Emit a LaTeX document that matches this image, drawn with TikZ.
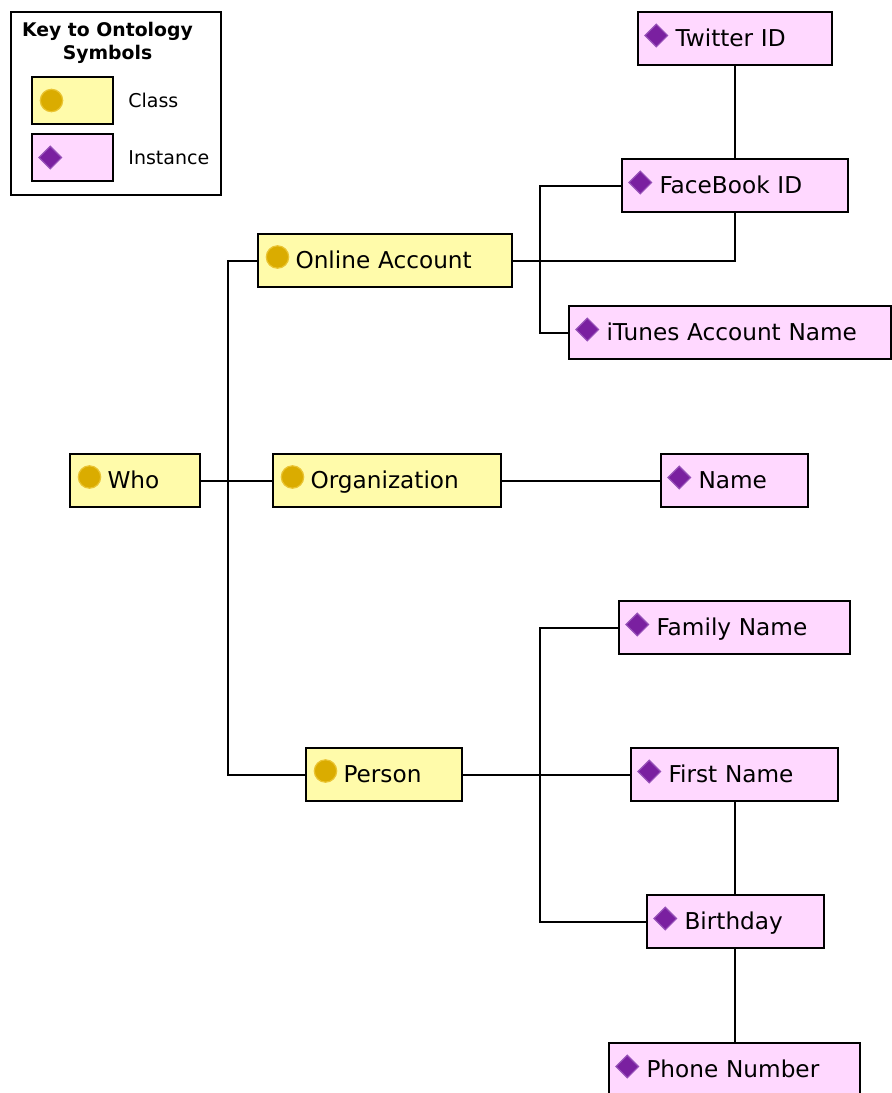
\documentclass[tikz,border=0pt]{standalone}
\usepackage{fontspec}
\setmainfont{DejaVu Sans}
\usetikzlibrary{positioning, backgrounds}
\definecolor{clsfill}{RGB}{255,251,170}
\definecolor{insfill}{RGB}{255,216,255}
\definecolor{clsdot}{RGB}{218,172,0}
\definecolor{clsdotline}{RGB}{234,196,50}
\definecolor{insdot}{RGB}{122,32,160}
\definecolor{insdotline}{RGB}{150,80,184}
\tikzset{
  % Class icon
  cdot/.style={path picture={
      \filldraw[fill=clsdot, draw=clsdotline, line width=0.6pt]
      ([shift={(19.5,#1)}]path picture bounding box.west) circle (5.6pt);}},
  % Instance icon
  idot/.style={path picture={
      \filldraw[fill=insdot, draw=insdotline, line width=0.6pt]
      ([shift={(18.3,#1)}]path picture bounding box.west)
      ++(-11.3,0) -- ++(11.3,11.3) -- ++(11.3,-11.3) -- ++(-11.3,-11.3) -- cycle;}},
  % General box, #1 = width in px
  onode/.style={draw, line width=1pt, shape=rectangle, minimum height=26.5pt,
    inner xsep=18.75pt, inner ysep=0pt, text width=#1*0.5pt-37.5pt,
    align=left, text height=9pt, text depth=0.6pt,
    font=\fontsize{11.6}{14}\selectfont},
  % Class node
  cnode/.style={onode=#1, fill=clsfill, cdot=3.5},
  % Instance node
  inode/.style={onode=#1, fill=insfill, idot=3},
  % Connectors
  link/.style={line width=1pt},
  % Key
  kbox/.style={draw, line width=1pt, minimum width=40.5pt, minimum height=23.5pt,
    inner sep=0pt},
  klabel/.style={inner sep=0pt, font=\fontsize{9.5}{11}\selectfont},
}

\begin{document}
\begin{tikzpicture}[x=0.5pt, y=0.5pt]
  \useasboundingbox (0,0) rectangle (891,-1093);

  % Key
  \draw[line width=1pt] (11,-12) rectangle (221,-195);
  \node[align=center, font=\fontsize{9.4}{11.5}\selectfont\bfseries] (ktitle)
  at (107.5,-43) {Key to Ontology\\Symbols};
  \node[kbox, fill=clsfill, cdot=0] (kcls) at (72.5,-100.5) {};
  \node[kbox, fill=insfill, idot=0] (kins) at (72.5,-157.5) {};
  \node[klabel, right=7pt of kcls] (kclass) {Class};
  \node[klabel, right=7pt of kins] (kinst) {Instance};

  % Classes
  \node[cnode=130] (who) at (135,-480.5) {Who};
  \node[cnode=254] (online) at (385,-260.5) {Online Account};
  \node[cnode=228] (org) at (387,-480.5) {Organization};
  \node[cnode=156] (person) at (384,-774.5) {Person};

  % Instances
  \node[inode=194] (twitter) at (735,-38.5) {Twitter ID};
  \node[inode=226] (facebook) at (735,-185.5) {FaceBook ID};
  \node[inode=322] (itunes) at (730,-332.5) {\mbox{iTunes Account Name}};
  \node[inode=147] (name) at (734.5,-480.5) {Name};
  \node[inode=231] (family) at (734.5,-627.5) {Family Name};
  \node[inode=207] (first) at (734.5,-774.5) {First Name};
  \node[inode=177] (birthday) at (735.5,-921.5) {Birthday};
  \node[inode=251] (phone) at (734.5,-1069.5) {\mbox{Phone Number}};

  \coordinate (wj) at (228,-480.5);
  \coordinate (oj) at (540,-260.5);
  \coordinate (pj) at (540,-774.5);

  \begin{pgfonlayer}{background}
    \fill[white] (0,0) rectangle (891,-1093);
    \draw[link] (who) -- (org);
    \draw[link] (wj) |- (online);
    \draw[link] (wj) |- (person);
    \draw[link] (online) -| (twitter);
    \draw[link] (oj) |- (facebook);
    \draw[link] (oj) |- (itunes);
    \draw[link] (org) -- (name);
    \draw[link] (person) -| (phone);
    \draw[link] (pj) |- (family);
    \draw[link] (pj) |- (birthday);
  \end{pgfonlayer}
\end{tikzpicture}
\end{document}
